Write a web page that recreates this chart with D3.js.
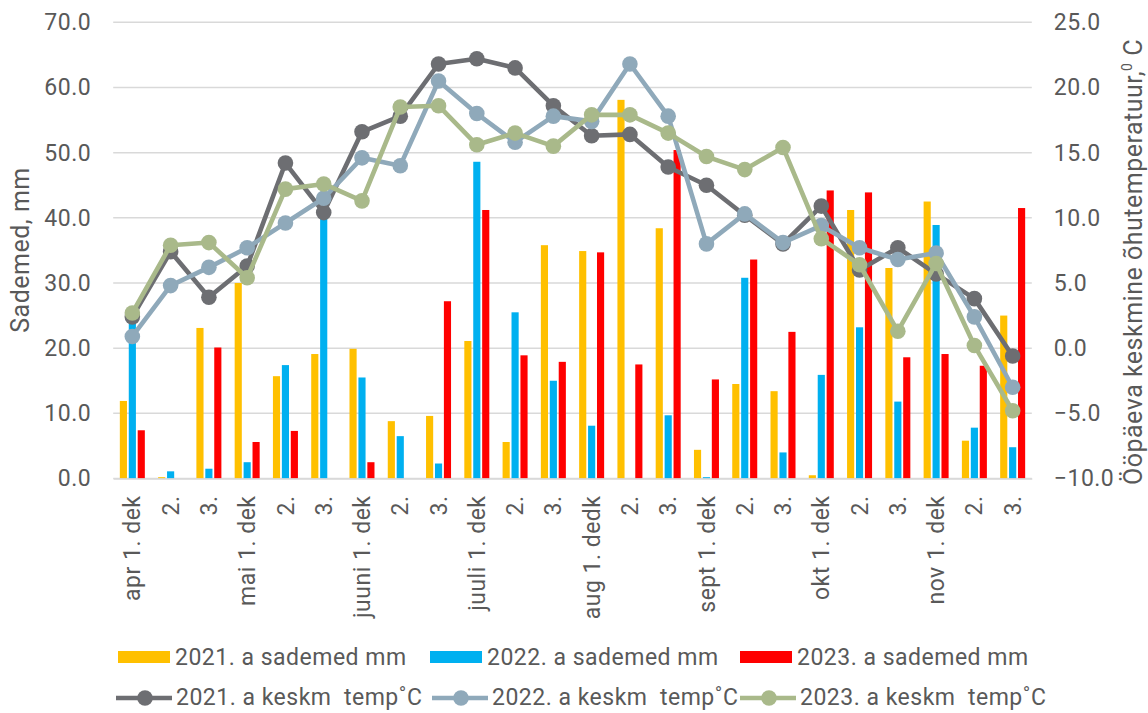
<!DOCTYPE html>
<html>
<head>
<meta charset="utf-8">
<script src="https://cdn.jsdelivr.net/npm/d3@7"></script>
<style>
  html, body { margin: 0; padding: 0; background: #fff; }
  svg { display: block; font-family: Roboto, "Noto Sans", sans-serif; }
  text { fill: #595959; letter-spacing: 0.5px; }
</style>
</head>
<body>
<svg id="chart" width="1148" height="713"></svg>
<script>
const categories = ["apr 1. dek","2.","3.","mai 1. dek","2.","3.","juuni 1. dek","2.","3.",
  "juuli 1. dek","2.","3.","aug 1. dedk","2.","3.","sept 1. dek","2.","3.",
  "okt 1. dek","2.","3.","nov 1. dek","2.","3."];

const rain2021 = [11.9,0.2,23.1,30.0,15.7,19.1,19.9,8.8,9.6,21.1,5.6,35.8,34.9,58.1,38.4,4.4,14.5,13.4,0.5,41.2,32.3,42.5,5.8,25.0];
const rain2022 = [23.8,1.1,1.5,2.5,17.4,41.0,15.5,6.5,2.3,48.6,25.5,15.0,8.1,0,9.7,0.2,30.8,4.0,15.9,23.2,11.8,38.9,7.8,4.8];
const rain2023 = [7.4,0,20.1,5.6,7.3,0,2.5,0,27.2,41.2,18.9,17.9,34.7,17.5,50.4,15.2,33.6,22.5,44.2,43.9,18.6,19.1,17.3,41.5];

const temp2021 = [2.4,7.4,3.9,6.3,14.2,10.4,16.6,17.8,21.8,22.2,21.5,18.6,16.3,16.4,13.9,12.5,10.2,8.0,10.9,6.0,7.7,5.7,3.8,-0.6];
const temp2022 = [0.9,4.8,6.2,7.7,9.6,11.5,14.6,14.0,20.5,18.0,15.8,17.8,17.4,21.8,17.8,8.0,10.3,8.1,9.4,7.7,6.8,7.3,2.4,-3.0];
const temp2023 = [2.7,7.9,8.1,5.4,12.2,12.6,11.3,18.5,18.6,15.6,16.5,15.5,17.9,17.9,16.5,14.7,13.7,15.4,8.4,6.4,1.3,6.5,0.2,-4.8];

const leftTicks = [0,10,20,30,40,50,60,70];
const rightTicks = [-10,-5,0,5,10,15,20,25];

const barSeries = [
  {name: "2021. a sademed mm", values: rain2021, color: "#FFC000"},
  {name: "2022. a sademed mm", values: rain2022, color: "#00B0F0"},
  {name: "2023. a sademed mm", values: rain2023, color: "#FF0000"}
];
const lineSeries = [
  {name: "2021. a keskm  temp˚C", values: temp2021, color: "#6D6E72"},
  {name: "2022. a keskm  temp˚C", values: temp2022, color: "#8FA9BA"},
  {name: "2023. a keskm  temp˚C", values: temp2023, color: "#A9B98A"}
];

const svg = d3.select("#chart");
const plot = {left: 113.2, right: 1031.8, top: 22.3, bottom: 478.5};

const x = d3.scaleBand().domain(d3.range(categories.length)).range([plot.left, plot.right]).padding(0);
const yL = d3.scaleLinear().domain([0, 70]).range([plot.bottom, plot.top]);
const yR = d3.scaleLinear().domain([-10, 25]).range([plot.bottom, plot.top]);
const inner = d3.scaleBand().domain(d3.range(barSeries.length)).range([-12.5, 12.5]).paddingInner(0.2);

// gridlines
svg.append("g").selectAll("line").data(leftTicks).join("line")
  .attr("x1", plot.left).attr("x2", plot.right)
  .attr("y1", d => yL(d)).attr("y2", d => yL(d))
  .attr("stroke", "#D9D9D9").attr("stroke-width", 1.5);

// left axis
const axL = svg.append("g").attr("transform", `translate(${plot.left},0)`)
  .call(d3.axisLeft(yL).tickValues(leftTicks).tickFormat(d3.format(".1f")).tickSize(0).tickPadding(22));
axL.select(".domain").remove();
axL.selectAll("text").attr("font-size", 23).attr("fill", "#595959").attr("font-family", "Roboto");

// right axis
const axR = svg.append("g").attr("transform", `translate(${plot.right},0)`)
  .call(d3.axisRight(yR).tickValues(rightTicks).tickFormat(d3.format(".1f")).tickSize(0).tickPadding(22));
axR.select(".domain").remove();
axR.selectAll("text").attr("font-size", 23).attr("fill", "#595959").attr("font-family", "Roboto");

// bars
barSeries.forEach((s, si) => {
  svg.append("g").selectAll("rect").data(s.values).join("rect")
    .attr("x", (d, i) => x(i) + x.bandwidth() / 2 + inner(si))
    .attr("width", inner.bandwidth())
    .attr("y", d => yL(d))
    .attr("height", d => yL(0) - yL(d))
    .attr("fill", s.color);
});

// x axis
const axB = svg.append("g").attr("transform", `translate(0,${plot.bottom})`)
  .call(d3.axisBottom(x).tickFormat(i => categories[i]).tickSize(0));
axB.select(".domain").attr("stroke", "#D9D9D9").attr("stroke-width", 1.5);
axB.selectAll("text")
  .attr("font-size", 23).attr("fill", "#595959").attr("font-family", "Roboto")
  .attr("transform", "rotate(-90)")
  .attr("text-anchor", "end")
  .attr("x", -17).attr("y", 0).attr("dy", "0.35em");

// lines
const lineGen = (sc) => d3.line().x((d, i) => x(i) + x.bandwidth() / 2).y(d => sc(d));
lineSeries.forEach(s => {
  const g = svg.append("g");
  g.append("path").datum(s.values)
    .attr("d", lineGen(yR))
    .attr("fill", "none").attr("stroke", s.color).attr("stroke-width", 4.6)
    .attr("stroke-linejoin", "round");
  g.selectAll("circle").data(s.values).join("circle")
    .attr("cx", (d, i) => x(i) + x.bandwidth() / 2)
    .attr("cy", d => yR(d))
    .attr("r", 7.8)
    .attr("fill", s.color);
});

// axis titles
svg.append("text")
  .attr("transform", "translate(29,250) rotate(-90)")
  .attr("text-anchor", "middle")
  .attr("font-size", 25)
  .text("Sademed, mm");

const rt = svg.append("text")
  .attr("transform", "translate(1142,262) rotate(-90)")
  .attr("text-anchor", "middle")
  .attr("font-size", 25);
rt.append("tspan").text("Ööpäeva keskmine õhutemperatuur,");
rt.append("tspan").attr("font-size", 14).attr("dy", -10).text("0");
rt.append("tspan").attr("dy", 10).text(" C");

// legend
const legBars = [118, 430, 740];
const leg = svg.append("g");
barSeries.forEach((s, i) => {
  leg.append("rect").attr("x", legBars[i]).attr("y", 651).attr("width", 52).attr("height", 12).attr("fill", s.color);
  leg.append("text").attr("x", legBars[i] + 57).attr("y", 657).attr("dy", "0.35em")
    .attr("font-size", 23).text(s.name);
});
const legLines = [116, 432, 740];
lineSeries.forEach((s, i) => {
  const lx = legLines[i];
  leg.append("line").attr("x1", lx).attr("x2", lx + 56).attr("y1", 698).attr("y2", 698)
    .attr("stroke", s.color).attr("stroke-width", 4.6);
  leg.append("circle").attr("cx", lx + 29).attr("cy", 698).attr("r", 7.8).attr("fill", s.color);
  leg.append("text").attr("x", lx + 60).attr("y", 697).attr("dy", "0.35em")
    .attr("font-size", 23).style("white-space", "pre").attr("xml:space", "preserve").text(s.name);
});
</script>
</body>
</html>
